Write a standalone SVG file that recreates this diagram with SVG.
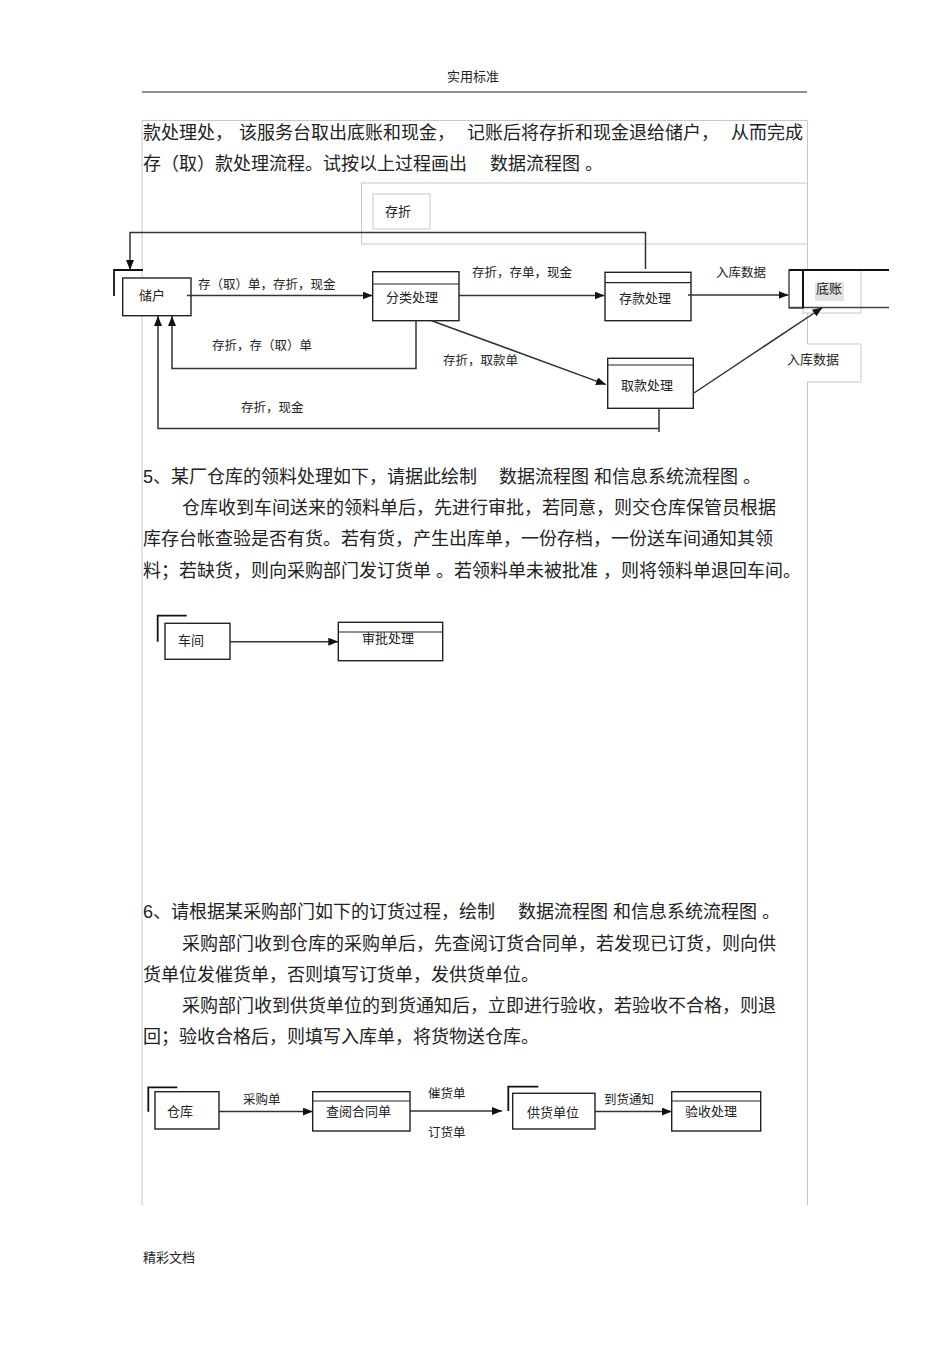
<svg xmlns="http://www.w3.org/2000/svg" width="950" height="1345" viewBox="0 0 950 1345">
<style>
.t{font-family:"Liberation Sans","Noto Sans CJK SC",sans-serif;fill:#222}
.p{font-size:18px}
.n{font-size:13px}
.l{font-size:12.5px}
.h{font-size:13px}
.frame{stroke:#c8c8c8;stroke-width:1;fill:none}
.fbox{stroke:#c8c8c8;stroke-width:1;fill:#fff}
.box{fill:#fff;stroke:#222;stroke-width:1.4}
.hd{stroke:#222;stroke-width:1.2}
.ent{fill:none;stroke:#111;stroke-width:1.8}
.line{stroke:#333;stroke-width:1.5;fill:none}
.arr{stroke:#333;stroke-width:1.5;fill:none;marker-end:url(#ah)}
</style>
<defs>
<marker id="ah" markerWidth="10" markerHeight="8" refX="10" refY="4" orient="auto" markerUnits="userSpaceOnUse"><path d="M0,0 L10,4 L0,8 z" fill="#111"/></marker>
</defs>
<rect width="950" height="1345" fill="#fff"/>

<g id="page">
<text class="t h" x="447" y="81">实用标准</text>
<line x1="142" y1="92" x2="807" y2="92" stroke="#222" stroke-width="1"/>
<text class="t h" x="143" y="1262">精彩文档</text>
</g>

<g id="frames">
<line class="frame" x1="142" y1="120.5" x2="807" y2="120.5"/>
<line class="frame" x1="142" y1="120.5" x2="142" y2="1205"/>
<line class="frame" x1="807.5" y1="120.5" x2="807.5" y2="270"/>
<line class="frame" x1="807.5" y1="313" x2="807.5" y2="344"/>
<line class="frame" x1="807.5" y1="382" x2="807.5" y2="1205"/>
<rect class="frame" x="361.5" y="183" width="446" height="61"/>
</g>

<g id="text4">
<text class="t p" x="143" y="139">款处理处，</text>
<text class="t p" x="239" y="139">该服务台取出底账和现金，</text>
<text class="t p" x="467" y="139">记账后将存折和现金退给储户，</text>
<text class="t p" x="731" y="139">从而完成</text>
<text class="t p" x="143" y="170">存（取）款处理流程。试按以上过程画出</text>
<text class="t p" x="490" y="170">数据流程图 。</text>
</g>

<g id="label-cunzhe-box">
<rect class="fbox" x="373" y="194" width="57" height="35"/>
<text class="t n" x="385" y="216">存折</text>
</g>

<g id="label-rk2">
<path class="fbox" d="M807.5,344 H861 V382 H807.5"/>
<text class="t n" x="787" y="364">入库数据</text>
</g>

<g id="chuhu">
<path class="ent" d="M114,296 V270 H143"/>
<rect class="box" x="122.7" y="278" width="68.3" height="37.7"/>
<text class="t n" x="139" y="300">储户</text>
</g>

<g id="fenlei">
<rect class="box" x="372.7" y="271.7" width="86.3" height="49" stroke-width="1.8"/>
<line class="hd" x1="372.7" y1="284" x2="459" y2="284"/>
<text class="t n" x="386" y="302">分类处理</text>
</g>

<g id="cunkuan">
<rect class="box" x="605" y="272.3" width="86" height="48.4"/>
<line class="hd" x1="605" y1="282.7" x2="691" y2="282.7"/>
<text class="t n" x="619" y="303">存款处理</text>
</g>

<g id="qukuan">
<rect class="box" x="607.7" y="358.3" width="85.6" height="50"/>
<line class="hd" x1="607.7" y1="365" x2="693.3" y2="365"/>
<text class="t n" x="621" y="390">取款处理</text>
</g>

<g id="dizhang">
<rect class="frame" x="803" y="270" width="58" height="43"/>
<rect x="789" y="270" width="14" height="38" fill="#fff" stroke="#333" stroke-width="1.3"/>
<line x1="789" y1="270" x2="889" y2="270" stroke="#111" stroke-width="2"/>
<line x1="789" y1="307.5" x2="889" y2="307.5" stroke="#444" stroke-width="1.3"/>
<line x1="803" y1="270" x2="803" y2="308" stroke="#111" stroke-width="2"/>
<rect x="815" y="282" width="29" height="19" fill="#e2e2e2"/>
<text class="t n" x="816" y="293">底账</text>
</g>

<g id="connectors">
<path class="arr" d="M645.5,269 V232.5 H130 V270"/>
<path class="arr" d="M187,295.5 H372.5"/>
<path class="arr" d="M416,321 V368.5 H172 V316"/>
<path class="line" d="M659,408 V432"/>
<path class="arr" d="M659,428.5 H158 V316"/>
<path class="arr" d="M459,295.5 H604.5"/>
<path class="arr" d="M688,295 H788.5"/>
<path class="arr" d="M431.7,320.7 L606,384.6"/>
<path class="arr" d="M694,393 L822.5,307.5"/>
<path class="arr" d="M230,641.7 H338.3"/>
<path class="arr" d="M219,1111.5 H312.7"/>
<path class="arr" d="M410,1111 H502"/>
<path class="arr" d="M595,1111.5 H671.7"/>
</g>

<g id="conn-labels">
<text class="t l" x="198" y="289">存（取）单，存折，现金</text>
<text class="t l" x="472" y="277">存折，存单，现金</text>
<text class="t l" x="716" y="277">入库数据</text>
<text class="t l" x="212" y="350">存折，存（取）单</text>
<text class="t l" x="443" y="365">存折，取款单</text>
<text class="t l" x="241" y="412">存折，现金</text>
<text class="t l" x="243" y="1104">采购单</text>
<text class="t l" x="428" y="1098">催货单</text>
<text class="t l" x="428" y="1137">订货单</text>
<text class="t l" x="604" y="1104">到货通知</text>
</g>

<g id="text5">
<text class="t p" x="143" y="483">5、某厂仓库的领料处理如下，请据此绘制</text>
<text class="t p" x="499" y="483">数据流程图 和信息系统流程图 。</text>
<text class="t p" x="182" y="514">仓库收到车间送来的领料单后，先进行审批，若同意，则交仓库保管员根据</text>
<text class="t p" x="143" y="545">库存台帐查验是否有货。若有货，产生出库单，一份存档，一份送车间通知其领</text>
<text class="t p" x="143" y="577">料；若缺货，则向采购部门发订货单 。若领料单未被批准 ，则将领料单退回车间。</text>
</g>

<g id="chejian">
<path class="ent" d="M157.7,641.7 V615.7 H186.7" stroke-width="1.4"/>
<rect class="box" x="165" y="623.3" width="65" height="36"/>
<text class="t n" x="178" y="645">车间</text>
</g>

<g id="shenpi">
<rect class="box" x="338.3" y="622.3" width="104.4" height="38.4"/>
<line class="hd" x1="338.3" y1="632" x2="442.7" y2="632"/>
<text class="t n" x="362" y="643">审批处理</text>
</g>

<g id="text6">
<text class="t p" x="143" y="918">6、请根据某采购部门如下的订货过程，绘制</text>
<text class="t p" x="518" y="918">数据流程图 和信息系统流程图 。</text>
<text class="t p" x="182" y="950">采购部门收到仓库的采购单后，先查阅订货合同单，若发现已订货，则向供</text>
<text class="t p" x="143" y="981">货单位发催货单，否则填写订货单，发供货单位。</text>
<text class="t p" x="182" y="1012">采购部门收到供货单位的到货通知后，立即进行验收，若验收不合格，则退</text>
<text class="t p" x="143" y="1043">回；验收合格后，则填写入库单，将货物送仓库。</text>
</g>

<g id="cangku">
<path class="ent" d="M148.3,1111.7 V1087.3 H177.3" stroke-width="1.4"/>
<rect class="box" x="155" y="1091.7" width="64" height="37.3"/>
<text class="t n" x="167" y="1116">仓库</text>
</g>

<g id="chayue">
<rect class="box" x="312.7" y="1091.7" width="97.3" height="39.3"/>
<line class="hd" x1="312.7" y1="1101" x2="410" y2="1101"/>
<text class="t n" x="326" y="1116">查阅合同单</text>
</g>

<g id="gonghuo">
<path class="ent" d="M508.3,1111 V1086.7 H538.3" stroke-width="1.4"/>
<rect class="box" x="512.7" y="1093.3" width="82.3" height="35.7"/>
<text class="t n" x="527" y="1117">供货单位</text>
</g>

<g id="yanshou">
<rect class="box" x="671.7" y="1091.7" width="89" height="39.3"/>
<line class="hd" x1="671.7" y1="1101" x2="760.7" y2="1101"/>
<text class="t n" x="685" y="1116">验收处理</text>
</g>
</svg>
